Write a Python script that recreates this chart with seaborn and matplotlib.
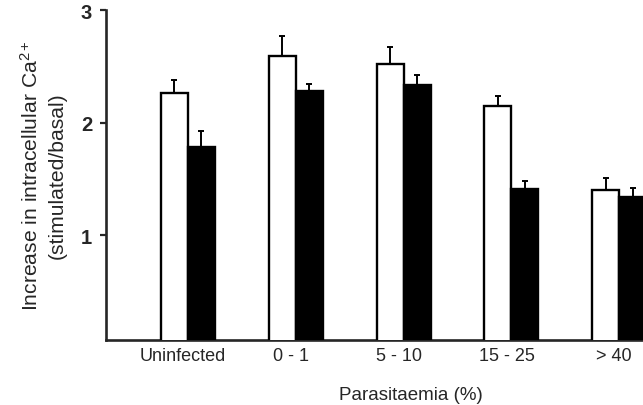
import numpy as np
import pandas as pd
import matplotlib
matplotlib.use("Agg")
import matplotlib.pyplot as plt
import matplotlib.transforms as mtransforms
import seaborn as sns

# ---- data ----
categories = ["Uninfected", "0 - 1", "5 - 10", "15 - 25", "> 40"]
groups = ["Open", "Filled"]
open_means = [2.26, 2.59, 2.52, 2.15, 1.40]
open_errs = [0.12, 0.18, 0.15, 0.09, 0.11]
filled_means = [1.78, 2.28, 2.33, 1.41, 1.34]
filled_errs = [0.15, 0.06, 0.09, 0.07, 0.08]
yticks = [1, 2, 3]

df = pd.DataFrame({
    "Parasitaemia": categories * 2,
    "group": [groups[0]] * len(categories) + [groups[1]] * len(categories),
    "value": open_means + filled_means,
})
errs = {groups[0]: open_errs, groups[1]: filled_errs}

sns.set_style("ticks")
plt.rcParams["font.family"] = ["Liberation Sans", "DejaVu Sans"]
plt.rcParams["mathtext.fontset"] = "custom"
plt.rcParams["mathtext.rm"] = "Liberation Sans"
plt.rcParams["mathtext.it"] = "Liberation Sans:italic"
plt.rcParams["mathtext.bf"] = "Liberation Sans:bold"

fig = plt.figure(figsize=(6.43, 4.06), dpi=100)
ax = fig.add_axes([106 / 643, 65 / 406, 537 / 643, 330 / 406])

sns.barplot(data=df, x="Parasitaemia", y="value", hue="group",
            order=categories, hue_order=groups,
            palette={groups[0]: "white", groups[1]: "black"},
            edgecolor="black", linewidth=1.7, width=0.5, gap=0,
            errorbar=None, legend=False, ax=ax, zorder=3)

for cont, g in zip(ax.containers, groups):
    xs = [p.get_x() + p.get_width() / 2 for p in cont]
    hs = [p.get_height() for p in cont]
    e = errs[g]
    ax.errorbar(xs, hs, yerr=[np.zeros(len(e)), e], fmt="none",
                ecolor="black", elinewidth=1.4, capsize=2.5,
                capthick=1.4, zorder=2)

ax.set_xlim(-0.76, 4.22)
ax.set_ylim(0.07, 3.0)
ax.set_yticks(yticks)
ax.set_yticklabels([str(t) for t in yticks], fontsize=14.5, fontweight="bold")
ax.tick_params(axis="y", length=4, width=1.6, pad=6, direction="out")
ax.tick_params(axis="x", length=0, pad=5, labelsize=13)
for lab in ax.get_xticklabels():
    lab.set_transform(lab.get_transform() +
                      mtransforms.ScaledTranslation(-5 / 100, 0, fig.dpi_scale_trans))

sns.despine(ax=ax)
for s in ["left", "bottom"]:
    ax.spines[s].set_linewidth(1.9)

ax.set_ylabel("Increase in intracellular Ca$^{2+}$\n(stimulated/basal)",
              fontsize=15.2, linespacing=1.35)
ax.yaxis.set_label_coords(-0.074, 0.5)
ax.set_xlabel("Parasitaemia (%)", fontsize=13.5)
ax.xaxis.set_label_coords(0.568, -0.14)

fig.savefig("out.png", dpi=100)
